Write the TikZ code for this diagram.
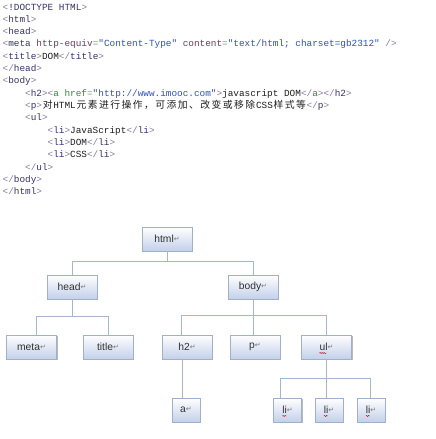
\documentclass[tikz,border=0pt]{standalone}
\usepackage{fontspec}
\usetikzlibrary{shadows,decorations.pathmorphing}

\newfontfamily\codefont{Liberation Mono}
\newfontfamily\cjkfont{Noto Sans CJK SC}
\newfontfamily\labelfont{Liberation Sans}
\newfontfamily\symfont{DejaVu Sans}

\definecolor{brk}{HTML}{8A7AA0}
\definecolor{tagc}{HTML}{34346E}
\definecolor{attrc}{HTML}{76365F}
\definecolor{eqc}{HTML}{7F9A7F}
\definecolor{strc}{HTML}{3050BE}
\definecolor{atagc}{HTML}{3A8440}
\definecolor{codetext}{HTML}{1E1E1E}
\definecolor{boxborder}{HTML}{9FB0C8}
\definecolor{boxfill}{HTML}{C3D0EA}
\definecolor{labeltext}{HTML}{333333}
\definecolor{retc}{HTML}{7A7A7A}
\definecolor{linec}{HTML}{A6B6CC}

% pieces of a code line
\newcommand{\brl}{\textcolor{brk}{<}}
\newcommand{\brr}{\textcolor{brk}{>}}
\newcommand{\brc}{\textcolor{brk}{</}}
\newcommand{\tgn}[1]{\textcolor{tagc}{#1}}
\newcommand{\attr}[1]{\textcolor{attrc}{#1}}
\newcommand{\eqs}{\textcolor{eqc}{=}}
\newcommand{\strv}[1]{\textcolor{strc}{#1}}
\newcommand{\atag}[1]{\textcolor{atagc}{#1}}
\newcommand{\zh}[1]{\makebox[11.26pt][c]{\cjkfont\fontsize{9.8}{12}\selectfont #1}}
\newcommand{\zhs}[1]{\zhsloop#1\relax}
\def\zhsloop#1{\ifx\relax#1\else\zh{#1}\expandafter\zhsloop\fi}
\newcommand{\retmark}{\raisebox{1pt}{\textcolor{retc}{\symfont\fontsize{7}{7}\selectfont ↵}}}

\begin{document}
\begin{tikzpicture}[x=1pt,y=-1pt,
  code line/.style={anchor=base west,inner sep=0pt,text=codetext,
    font=\codefont\fontsize{9.38}{12}\selectfont},
  tag box/.style={draw=boxborder,top color=white,bottom color=boxfill,
    minimum width=50pt,minimum height=24pt,inner sep=0pt,text=labeltext,
    font=\labelfont\fontsize{10.3}{10}\selectfont,
    drop shadow={shadow xshift=1.2pt,shadow yshift=-1.2pt,opacity=0.45,fill=black!60}},
  leaf box/.style={tag box,minimum width=28pt},
  link/.style={draw=linec,line width=0.8pt},
  tree bus/.style={to path={-- ++(0,#1) -| (\tikztotarget)}},
  spell/.style={draw=red!80!black,line width=0.4pt,decorate,
    decoration={snake,amplitude=0.6pt,segment length=2pt}}]

  \fill[white] (0,0) rectangle (436,439);
  \useasboundingbox (0,0) rectangle (436,439);

  % source code
  \node[code line] (c1)  at (2.5,10)     {\brl!\tgn{DOCTYPE HTML}\brr};
  \node[code line] (c2)  at (2.5,22.33)  {\brl\tgn{html}\brr};
  \node[code line] (c3)  at (2.5,34.66)  {\brl\tgn{head}\brr};
  \node[code line] (c4)  at (2.5,46.99)  {\brl\tgn{meta} \attr{http-equiv}\eqs\strv{"Content-Type"} \attr{content}\eqs\strv{"text/html; charset=gb2312"} \textcolor{brk}{/>}};
  \node[code line] (c5)  at (2.5,59.32)  {\brl\tgn{title}\brr DOM\brc\tgn{title}\brr};
  \node[code line] (c6)  at (2.5,71.65)  {\brc\tgn{head}\brr};
  \node[code line] (c7)  at (2.5,83.98)  {\brl\tgn{body}\brr};
  \node[code line] (c8)  at (25,96.31)   {\brl\tgn{h2}\brr\brl\atag{a href}\eqs\strv{"http://www.imooc.com"}\brr javascript DOM\brc\atag{a}\brr\brc\tgn{h2}\brr};
  \node[code line] (c9)  at (25,108.64)  {\brl\tgn{p}\brr\zh{对}HTML\zhs{元素进行操作，可添加、改变或移除}CSS\zhs{样式等}\brc\tgn{p}\brr};
  \node[code line] (c10) at (25,120.97)  {\brl\tgn{ul}\brr};
  \node[code line] (c11) at (47.5,133.3) {\brl\tgn{li}\brr JavaScript\brc\tgn{li}\brr};
  \node[code line] (c12) at (47.5,145.63) {\brl\tgn{li}\brr DOM\brc\tgn{li}\brr};
  \node[code line] (c13) at (47.5,157.96) {\brl\tgn{li}\brr CSS\brc\tgn{li}\brr};
  \node[code line] (c14) at (25,170.29)  {\brc\tgn{ul}\brr};
  \node[code line] (c15) at (2.5,182.62) {\brc\tgn{body}\brr};
  \node[code line] (c16) at (2.5,194.95) {\brc\tgn{html}\brr};

  % DOM tree
  \node[tag box] (html)  at (167,239)   {html\retmark};
  \node[tag box] (head)  at (72,287)    {head\retmark};
  \node[tag box] (body)  at (253,287)   {body\retmark};
  \node[tag box] (meta)  at (31.5,347)  {meta\retmark};
  \node[tag box] (title) at (108,347)   {title\retmark};
  \node[tag box] (h2)    at (187,347)   {h2\retmark};
  \node[tag box] (p)     at (255,347)   {p\retmark};
  \node[tag box] (ul)    at (326.5,347) {ul\retmark};
  \node[leaf box] (a)    at (186,410)   {a\retmark};
  \node[leaf box] (li1)  at (287.5,410) {li\retmark};
  \node[leaf box] (li2)  at (329,410)   {li\retmark};
  \node[leaf box] (li3)  at (371,410)   {li\retmark};

  \path[link]
    (html.south) edge[tree bus=10] (head.north)
    (html.south) edge[tree bus=10] (body.north)
    (head.south) edge[tree bus=17] ([xshift=4.5pt]meta.north)
    (head.south) edge[tree bus=17] (title.north)
    (body.south) edge[tree bus=16] ([xshift=-6pt]h2.north)
    (body.south) edge (body.south |- p.north)
    (body.south) edge[tree bus=16] (ul.north)
    ([xshift=-5pt]h2.south) edge ([xshift=-5pt]h2.south |- a.north)
    (ul.south) edge[tree bus=19] ([xshift=-7pt]li1.north)
    (ul.south) edge (ul.south |- li2.north)
    (ul.south) edge[tree bus=19] ([xshift=-1pt]li3.north);

  % spell-check marks
  \draw[spell] ([xshift=-7pt,yshift=-6pt]ul.center) -- ++(7,0);
  \foreach \n in {li1,li2,li3}
    \draw[spell] ([xshift=-5pt,yshift=-6pt]\n.center) -- ++(4,0);
\end{tikzpicture}
\end{document}
